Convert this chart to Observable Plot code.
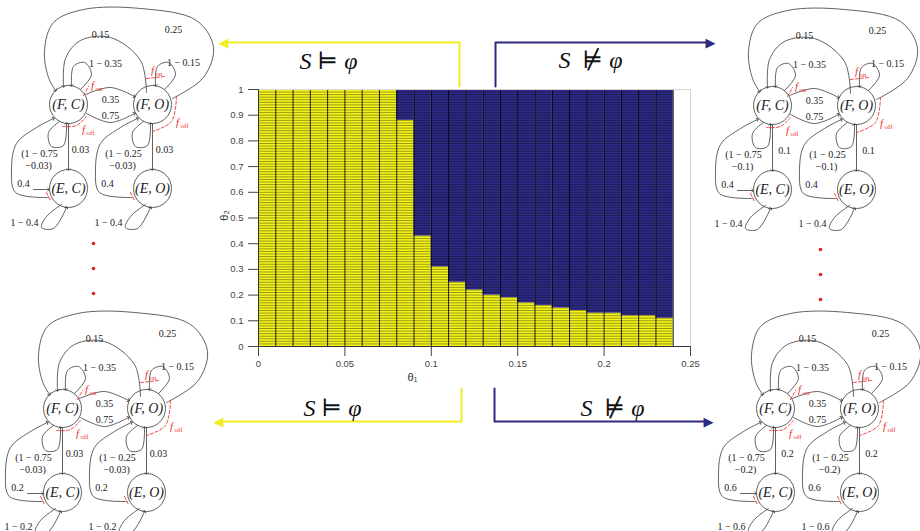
<!DOCTYPE html>
<html><head><meta charset="utf-8">
<script src="https://cdn.jsdelivr.net/npm/d3@7"></script>
<script src="https://cdn.jsdelivr.net/npm/@observablehq/plot@0.6"></script>
<style>
html,body{margin:0;padding:0;background:#fff;}
#wrap{position:relative;width:920px;height:531px;overflow:hidden;background:#fff;}
#wrap svg{position:absolute;left:0;top:0;}
</style></head><body><div id="wrap"></div>
<script>
// ---------- central chart data ----------
const theta1Edges = [0,0.01,0.02,0.03,0.04,0.05,0.06,0.07,0.08,0.09,0.10,0.11,0.12,0.13,0.14,0.15,0.16,0.17,0.18,0.19,0.20,0.21,0.22,0.23,0.24];
const boundaryTheta2 = [1,1,1,1,1,1,1,1,0.88,0.43,0.31,0.25,0.22,0.20,0.19,0.17,0.16,0.15,0.14,0.13,0.13,0.12,0.12,0.11];
const theta1Ticks = [0,0.05,0.1,0.15,0.2,0.25];
const theta2Ticks = [0,0.1,0.2,0.3,0.4,0.5,0.6,0.7,0.8,0.9,1];
const theta2GridStep = 0.01;
const satColor = "#f6f61e", unsatColor = "#2f2b88";

// ---------- annotation data ----------
const verdictText = ["S ⊨ φ", "S  ⊭ φ", "S ⊨ φ", "S  ⊭ φ"];
const verdictColor = ["#eeee22", "#2e2a80", "#eeee22", "#2e2a80"];
const diagramOrigin = [[68,104],[772,105],[62,408],[775,408]];
const exitProb = ["0.03","0.1","0.03","0.2"];
const returnProb = ["0.4","0.4","0.2","0.6"];
const nodeNames = ["(F, C)","(F, O)","(E, C)","(E, O)"];
const nodePos = [[0,0],[84,0],[0,84],[84,84]];

// ---------- central heatmap ----------
const cells = [];
boundaryTheta2.forEach((b,i)=>{
  cells.push({x1:theta1Edges[i],x2:theta1Edges[i+1],y1:0,y2:b,sat:true});
  if (b < 1) cells.push({x1:theta1Edges[i],x2:theta1Edges[i+1],y1:b,y2:1,sat:false});
});
const gridRows = d3.range(0, 1 + 1e-9, theta2GridStep);
const fmt = d => String(+d.toFixed(2));

const chart = Plot.plot({
  width: 920, height: 531,
  marginLeft: 258, marginRight: 230, marginTop: 89, marginBottom: 185,
  style: {background: "transparent", fontFamily: "Liberation Sans, Arial, sans-serif", fontSize: "9.5px", color: "#454545"},
  x: {domain: [0, 0.25], ticks: theta1Ticks, tickFormat: fmt, tickSize: 10, tickPadding: 4, label: null},
  y: {domain: [0, 1], ticks: theta2Ticks, tickFormat: fmt, tickSize: 10, tickPadding: 5, label: null},
  marks: [
    Plot.rect(cells, {x1: "x1", x2: "x2", y1: "y1", y2: "y2", fill: d => d.sat ? satColor : unsatColor}),
    Plot.ruleY(gridRows, {x1: 0, x2: 0.24, stroke: "#000", strokeOpacity: 0.55, strokeWidth: 0.7}),
    Plot.ruleX(theta1Edges, {y1: 0, y2: 1, stroke: "#000", strokeOpacity: 0.85, strokeWidth: 1}),
    Plot.ruleY([1], {x1: 0, x2: 0.25, stroke: "#d6d6d6"}),
    Plot.ruleX([0.25], {y1: 0, y2: 1, stroke: "#d6d6d6"}),
    Plot.ruleX([0], {y1: 0, y2: 1, stroke: "#333"}),
    Plot.ruleY([0], {x1: 0, x2: 0.25, stroke: "#333"})
  ]
});

// ---------- diagrams ----------
const shift = (pts, dx) => pts.map(([x,y]) => [x+dx, y]);
const selfFC = [[-9,17],[-20,28],[-17,42],[-5,41],[-2,19]];
const downFC = [[0,19],[0,65]];
const upFC = [[-20,93],[-53,88],[-57,66],[-52,39],[-32,23],[-15,14]];
const loopEC = [[-7,100],[-22,112],[-27,123],[-15,124],[-2,103]];
const topLoopFC = [[12,-15],[23,-30],[16,-42],[5,-38],[3,-19]];
const edgeTemplate = [
  [[104,-6],[135,-27],[145,-57],[128,-84],[72,-96],[15,-95],[-15,-82],[-24,-54],[-20,-27],[-13,-14]],
  [[78,-12],[72,-44],[42,-67],[12,-64],[-3,-46],[-5,-18]],
  topLoopFC, shift(topLoopFC, 84),
  [[17,-10],[42,-17],[66,-8]],
  [[18,9],[42,18],[66,9]],
  selfFC, downFC, upFC, loopEC,
  shift(selfFC,84), shift(downFC,84), shift(upFC,84), shift(loopEC,84),
  [[-35,85],[-20,85]]
];
const redTemplate = [
  [[15,-9],[20,-18]],
  [[-6,22],[8,21],[18,12]],
  [[78,-26],[96,-28]],
  [[108,-8],[103,17],[84,27]],
  [[-22,88],[-18,96]],
  [[62,88],[66,96]]
];
const fLabels = [[24,-19,"on"],[15,25,"off"],[84,-34,"on"],[109,18,"off"]];

const edgeRows = [], redRows = [], labelRows = [], nodeRows = [], fRows = [];
diagramOrigin.forEach(([ox,oy], k) => {
  edgeTemplate.forEach((pts, e) => pts.forEach(([x,y]) => edgeRows.push({id: k+"-"+e, x: ox+x, y: oy+y})));
  redTemplate.forEach((pts, e) => pts.forEach(([x,y]) => redRows.push({id: k+"-"+e, x: ox+x, y: oy+y})));
  nodePos.forEach(([x,y], n) => nodeRows.push({x: ox+x, y: oy+y, t: nodeNames[n]}));
  fLabels.forEach(([x,y,s]) => fRows.push({x: ox+x, y: oy+y, s}));
  const ex = exitProb[k], rp = returnProb[k];
  [
    [105,-75,"0.25"],[32,-70,"0.15"],[37,-41,"1 − 0.35"],[115,-42,"1 − 0.15"],
    [42,-5,"0.35"],[42,11,"0.75"],
    [-29,49,"(1 − 0.75"],[-30,61,"−"+ex+")"],[12,45,ex],
    [55,49,"(1 − 0.25"],[54,61,"−"+ex+")"],[96,45,ex],
    [-45,79,rp],[39,79,rp],[-44,118,"1 − "+rp],[40,118,"1 − "+rp]
  ].forEach(([x,y,t]) => labelRows.push({x: ox+x, y: oy+y, t}));
});

// main verdict arrows
const mainArrows = [
  [[459,86],[459,42],[226,42]],
  [[495,86],[495,42],[707,42]],
  [[461,388],[461,421],[221,421]],
  [[494,388],[494,421],[705,421]]
];
const mainHeads = [[223,42,"◀"],[710,42,"▶"],[218,421,"◀"],[708,421,"▶"]];
const verdictPos = [[328,61],[590,60],[332,408],[612,408]];
const arrowRows = [];
mainArrows.forEach((pts,k) => pts.forEach(([x,y]) => arrowRows.push({id:k, x, y, c: verdictColor[k]})));
const headRows = mainHeads.map(([x,y,s],k) => ({x, y, s, c: verdictColor[k]}));
const verdictRows = verdictPos.map(([x,y],k) => ({x, y, t: verdictText[k]}));
const dotsLeft = [[93,243],[93,268],[93,293],[820,249],[820,274],[820,299]].map(([x,y]) => ({x,y}));
const axisTitles = [{x:412, y:377, t:"θ₁", r:0},{x:224, y:215, t:"θ₂", r:-90}];

const overlay = Plot.plot({
  width: 920, height: 531, margin: 0,
  x: {domain: [0, 920], range: [0, 920], axis: null},
  y: {domain: [0, 531], range: [0, 531], axis: null},
  style: {background: "transparent", overflow: "visible"},
  marks: [
    Plot.dot(nodeRows, {x: "x", y: "y", r: 19, fill: "white", stroke: "#3a3a3a", strokeWidth: 0.8}),
    Plot.line(edgeRows, {x: "x", y: "y", z: "id", curve: "catmull-rom", stroke: "#3a3a3a", strokeWidth: 0.8, markerEnd: "arrow"}),
    Plot.line(redRows, {x: "x", y: "y", z: "id", curve: "catmull-rom", stroke: "#ee3333", strokeWidth: 0.9, strokeDasharray: "3,2"}),
    Plot.text(nodeRows, {x: "x", y: "y", text: "t", fontFamily: "Liberation Serif, serif", fontStyle: "italic", fontSize: 14, fill: "#222"}),
    Plot.text(labelRows, {x: "x", y: "y", text: "t", fontFamily: "Liberation Serif, serif", fontSize: 10, fill: "#222"}),
    Plot.text(fRows, {x: "x", y: "y", text: () => "f", fontFamily: "Liberation Serif, serif", fontStyle: "italic", fontSize: 11, fill: "#ee3333"}),
    Plot.text(fRows, {x: "x", y: "y", text: "s", dx: 3, dy: 3, textAnchor: "start", fontFamily: "Liberation Serif, serif", fontSize: 7, fill: "#ee3333"}),
    Plot.dot(dotsLeft, {x: "x", y: "y", r: 1.8, fill: "#e02020"}),
    Plot.line(arrowRows, {x: "x", y: "y", z: "id", stroke: "c", strokeWidth: 2}),
    Plot.text(headRows, {x: "x", y: "y", text: "s", fill: "c", fontSize: 13, fontFamily: "DejaVu Sans"}),
    Plot.text(verdictRows, {x: "x", y: "y", text: "t", fontFamily: "Liberation Serif, DejaVu Serif, serif", fontStyle: "italic", fontSize: 24, fill: "#111"}),
    Plot.text(axisTitles, {x: "x", y: "y", text: "t", rotate: "r", fontFamily: "Liberation Sans, Arial", fontSize: 11, fill: "#333"})
  ]
});

const wrap = document.getElementById("wrap");
wrap.appendChild(chart);
wrap.appendChild(overlay);
</script></body></html>
